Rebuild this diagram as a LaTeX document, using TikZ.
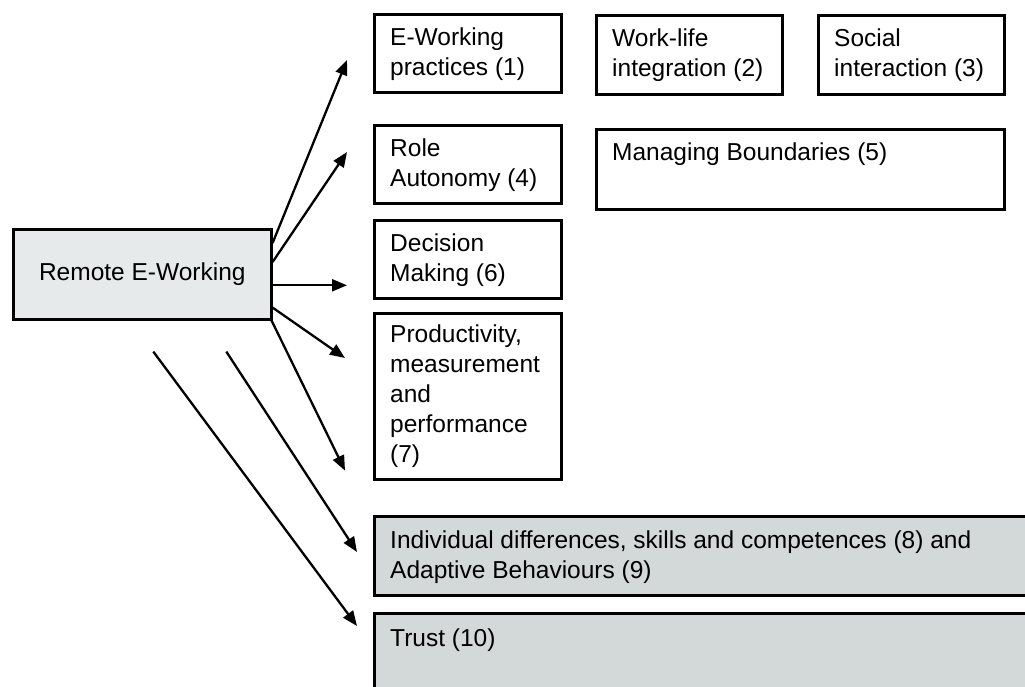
\documentclass[tikz,border=0pt]{standalone}
\usepackage{fontspec}
\setmainfont{Liberation Sans}
\usetikzlibrary{arrows.meta,calc}
\definecolor{rwfill}{HTML}{E7EAEA}
\definecolor{rwgrey}{HTML}{D3D8D8}
\tikzset{
  box/.style    = {draw, line width=2.6pt, fill=white, anchor=north west,
                   inner sep=0pt, minimum width=#1},
  greyb/.style  = {box=#1, fill=rwgrey},
  inlbl/.style  = {anchor=north west, align=left, inner sep=0pt,
                   label distance=0pt, xshift=17pt, yshift=-15pt},
  arr/.style    = {-{Triangle[length=15pt,width=12pt]}, line width=2.3pt},
}
\begin{document}
\begin{tikzpicture}[x=1pt,y=-1pt, font=\fontsize{24.5}{30}\selectfont]
\useasboundingbox (0,0) rectangle (1025,687);
\clip (0,0) rectangle (1025,687);

% -- source ------------------------------------------------------------------
\node[box=258, minimum height=90, fill=rwfill, anchor=north west] (ework) at (12,228)
  {Remote E-Working};

% -- top row -----------------------------------------------------------------
\node[box=187, minimum height=78, label={[inlbl]north west:E-Working\\practices (1)}]
  (prac) at (373,13) {};
\node[box=186, minimum height=79, label={[inlbl]north west:Work-life\\integration (2)}]
  (wli) at (595,14) {};
\node[box=186, minimum height=79, label={[inlbl]north west:Social\\interaction (3)}]
  (soc) at (817,14) {};

% -- left column -------------------------------------------------------------
\node[box=187, minimum height=78, label={[inlbl]north west:Role\\Autonomy (4)}]
  (role) at (373,124) {};
\node[box=408, minimum height=80, label={[inlbl]north west:Managing Boundaries (5)}]
  (bound) at (595,128) {};
\node[box=187, minimum height=78, label={[inlbl]north west:Decision\\Making (6)}]
  (dec) at (373,219) {};
\node[box=187, minimum height=166,
  label={[inlbl, yshift=2pt]north west:Productivity,\\measurement\\and\\performance\\(7)}]
  (prod) at (373,312) {};

% -- grey bands (run off the page) --------------------------------------------
\node[greyb=700, minimum height=79,
  label={[inlbl, yshift=-1pt]north west:{Individual differences, skills and competences (8) and\\Adaptive Behaviours (9)}}]
  (indiv) at (373,515) {};
\node[greyb=700, minimum height=120, label={[inlbl, yshift=-2pt]north west:Trust (10)}]
  (trust) at (373,612) {};

% -- arrow ends --------------------------------------------------------------
\coordinate (s1) at ($(ework.north east)+(0,15)$);
\coordinate (s2) at ($(ework.north east)+(0,34)$);
\coordinate (s3) at ($(ework.east)+(0,11)$);
\coordinate (s4) at ($(ework.south east)+(0,-13)$);
\coordinate (s5) at ($(ework.south east)+(-2,-2)$);
\coordinate (s6) at ($(ework.south)+(84,31)$);
\coordinate (s7) at ($(ework.south)+(11,31)$);

\coordinate (t1) at ($(prac.north west)+(-26,47)$);
\coordinate (t2) at ($(role.north west)+(-26,28)$);
\coordinate (t3) at ($(dec.west |- s3)+(-26,0)$);
\coordinate (t4) at ($(prod.north west)+(-28,46)$);
\coordinate (t5) at ($(prod.south west)+(-28,-10)$);
\coordinate (t6) at ($(indiv.north west)+(-16,37)$);
\coordinate (t7) at ($(trust.north west)+(-16,14)$);

\foreach \i in {1,...,7}
  \draw[arr] (s\i) -- (t\i);

\end{tikzpicture}
\end{document}
